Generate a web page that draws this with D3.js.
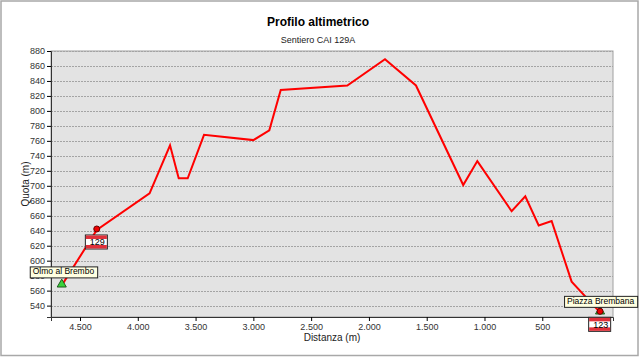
<!DOCTYPE html>
<html>
<head>
<meta charset="utf-8">
<script src="https://cdn.jsdelivr.net/npm/d3@7"></script>
<style>
  body { margin: 0; background: #fff; }
  text { font-family: "Liberation Sans", Arial, sans-serif; }
</style>
</head>
<body>
<div id="chart"></div>
<script>
// profilo del sentiero (distanza dall'arrivo, quota)
var distanze = [4658, 4355, 3898, 3721, 3646, 3568, 3427, 3000, 2862, 2763, 2187, 1861, 1593, 1184, 1062, 765, 647, 531, 419, 246, 0];
var quote = [567, 641, 690, 754, 710, 710, 768, 761, 774, 828, 834, 869, 834, 701, 733, 666, 686, 647, 653, 572, 531];
var yTicks = [540, 560, 580, 600, 620, 640, 660, 680, 700, 720, 740, 760, 780, 800, 820, 840, 860, 880];
var xTicks = [4500, 4000, 3500, 3000, 2500, 2000, 1500, 1000, 500];
var localita = [{ d: 4658, q: 567, nome: "Olmo al Brembo" }, { d: 0, q: 531, nome: "Piazza Brembana" }];
var cartelli = [{ d: 4355, q: 641, num: "129" }, { d: 0, q: 531, num: "123" }];

var W = 640, H = 357;
var margin = { top: 51, right: 27, bottom: 40, left: 51 };
var width = W - margin.left - margin.right,
    height = H - margin.top - margin.bottom;

var svg = d3.select("#chart").append("svg")
    .attr("width", W)
    .attr("height", H);

// cornice esterna
svg.append("rect")
    .attr("x", 1).attr("y", 1)
    .attr("width", W - 3).attr("height", H - 2.5)
    .attr("fill", "#fff")
    .attr("stroke", "#a8a8a8")
    .attr("stroke-width", 1.5);

svg.append("text")
    .attr("x", 318).attr("y", 26)
    .attr("text-anchor", "middle")
    .style("font-size", "12px")
    .style("font-weight", "bold")
    .text("Profilo altimetrico");

svg.append("text")
    .attr("x", 318).attr("y", 43)
    .attr("text-anchor", "middle")
    .style("font-size", "9px")
    .attr("fill", "#222")
    .text("Sentiero CAI 129A");

var x = d3.scaleLinear().domain([4751, -112]).range([0, width]);
var y = d3.scaleLinear().domain([524.8, 880]).range([height, 0]);

var g = svg.append("g")
    .attr("transform", "translate(" + margin.left + "," + margin.top + ")");

g.append("rect")
    .attr("width", width).attr("height", height)
    .attr("fill", "#e3e3e3")
    .attr("stroke", "#a0a0a0");

// griglia
g.selectAll(".grid")
    .data(yTicks)
    .enter().append("line")
    .attr("class", "grid")
    .attr("x1", 0).attr("x2", width)
    .attr("y1", function(d) { return Math.round(y(d)) + 0.5; })
    .attr("y2", function(d) { return Math.round(y(d)) + 0.5; })
    .attr("stroke", "#a4a4a4")
    .attr("stroke-dasharray", "2,1");

var yAxis = d3.axisLeft(y).tickValues(yTicks).tickSize(4).tickPadding(2);
var xAxis = d3.axisBottom(x).tickValues(xTicks).tickSize(4).tickPadding(3)
    .tickFormat(function(d) { return d3.format(",")(d).replace(/,/g, "."); });

var ya = g.append("g").call(yAxis);
ya.select(".domain").attr("stroke", "#333");
ya.selectAll("text").style("font-size", "9px").attr("fill", "#333");

var xa = g.append("g").attr("transform", "translate(0," + height + ")").call(xAxis);
xa.select(".domain").attr("stroke", "#333");
xa.selectAll("text").style("font-size", "9px").attr("fill", "#333");

svg.append("text")
    .attr("transform", "translate(28.5," + (margin.top + height / 2) + ") rotate(-90)")
    .attr("text-anchor", "middle")
    .style("font-size", "10px")
    .attr("fill", "#222")
    .text("Quota (m)");

svg.append("text")
    .attr("x", margin.left + width / 2).attr("y", 341)
    .attr("text-anchor", "middle")
    .style("font-size", "10px")
    .attr("fill", "#222")
    .text("Distanza (m)");

var punti = distanze.map(function(d, i) { return { d: d, q: quote[i] }; });

var line = d3.line()
    .x(function(p) { return x(p.d); })
    .y(function(p) { return y(p.q); });

g.append("path")
    .datum(punti)
    .attr("fill", "none")
    .attr("stroke", "#ff0000")
    .attr("stroke-width", 2)
    .attr("d", line);

// marcatori
var tri = d3.symbol().type(d3.symbolTriangle).size(36);
localita.forEach(function(l) {
    g.append("path")
        .attr("d", tri)
        .attr("transform", "translate(" + x(l.d) + "," + (y(l.q) - 1) + ")")
        .attr("fill", "#3ad13a")
        .attr("stroke", "#1d5a1d");
});

cartelli.forEach(function(c) {
    g.append("circle")
        .attr("cx", x(c.d)).attr("cy", y(c.q) - 1)
        .attr("r", 3).attr("fill", "#e00").attr("stroke", "#600");
});

// cartelli CAI
cartelli.forEach(function(c) {
    var cx = x(c.d) - 11.4, cy = y(c.q) + 5;
    var cg = g.append("g").attr("transform", "translate(" + cx + "," + cy + ")");
    cg.append("rect").attr("width", 22).attr("height", 14).attr("fill", "#fff").attr("stroke", "#222");
    cg.append("rect").attr("x", 0.5).attr("y", 0.5).attr("width", 21).attr("height", 3.5).attr("fill", "#e0303a");
    cg.append("rect").attr("x", 0.5).attr("y", 10).attr("width", 21).attr("height", 3.5).attr("fill", "#e0303a");
    cg.append("text").attr("x", 12).attr("y", 10.5)
        .attr("text-anchor", "middle")
        .style("font-size", "9px")
        .text(c.num);
});

// etichette località
var etichette = [{ x: x(localita[0].d) - 32, y: y(localita[0].q) - 19 }, { x: x(localita[1].d) - 36, y: y(localita[1].q) - 16.5 }];
localita.forEach(function(l, i) {
    var lg = g.append("g").attr("transform", "translate(" + etichette[i].x + "," + etichette[i].y + ")");
    var t = lg.append("text").attr("x", 3).attr("y", 8)
        .style("font-size", "8.5px")
        .text(l.nome);
    var w = t.node().getComputedTextLength() + 6;
    lg.insert("rect", "text")
        .attr("x", 0.5).attr("y", 0.5)
        .attr("width", w).attr("height", 11)
        .attr("fill", "#ffffe1").attr("stroke", "#222");
});
</script>
</body>
</html>
